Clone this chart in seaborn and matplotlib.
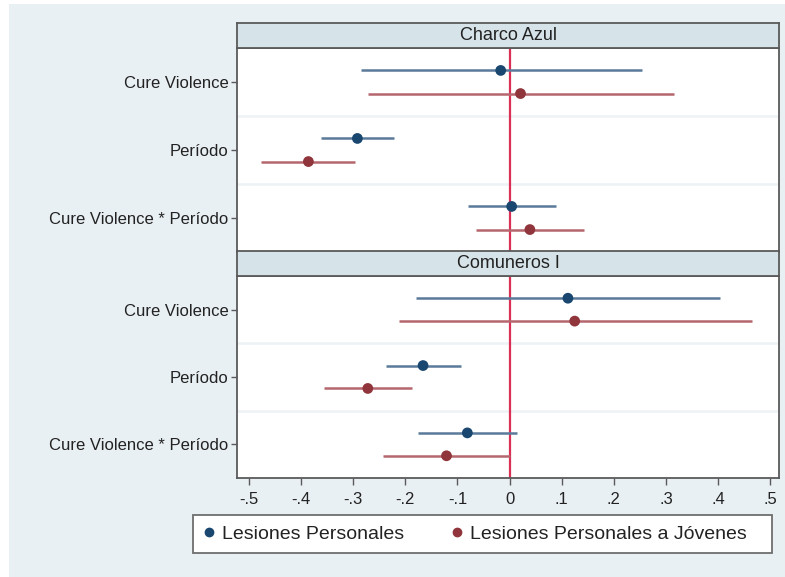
import matplotlib
matplotlib.use("Agg")
import matplotlib.pyplot as plt
from matplotlib.patches import Rectangle
from matplotlib.lines import Line2D
import seaborn as sns
import pandas as pd
import numpy as np

# ---------------- data ----------------
categories = ["Cure Violence", "Período", "Cure Violence * Período"]
panels = ["Charco Azul", "Comuneros I"]
series = ["Lesiones Personales", "Lesiones Personales a Jóvenes"]

charco_lp_est = [-0.017, -0.292, 0.004]
charco_lp_lo = [-0.286, -0.361, -0.080]
charco_lp_hi = [0.254, -0.221, 0.090]
charco_lpj_est = [0.021, -0.386, 0.039]
charco_lpj_lo = [-0.271, -0.476, -0.064]
charco_lpj_hi = [0.315, -0.296, 0.142]

comu_lp_est = [0.112, -0.166, -0.081]
comu_lp_lo = [-0.180, -0.237, -0.175]
comu_lp_hi = [0.404, -0.094, 0.014]
comu_lpj_est = [0.125, -0.272, -0.121]
comu_lpj_lo = [-0.213, -0.356, -0.243]
comu_lpj_hi = [0.465, -0.188, 0.000]

xticks = [-0.5, -0.4, -0.3, -0.2, -0.1, 0.0, 0.1, 0.2, 0.3, 0.4, 0.5]
xticklabels = ["-.5", "-.4", "-.3", "-.2", "-.1", "0", ".1", ".2", ".3", ".4", ".5"]

rows = []
for panel, blocks in zip(panels, [
        [(charco_lp_est, charco_lp_lo, charco_lp_hi), (charco_lpj_est, charco_lpj_lo, charco_lpj_hi)],
        [(comu_lp_est, comu_lp_lo, comu_lp_hi), (comu_lpj_est, comu_lpj_lo, comu_lpj_hi)]]):
    for s, (est, lo, hi) in zip(series, blocks):
        for i, c in enumerate(categories):
            rows.append(dict(panel=panel, series=s, cat=c, idx=i, est=est[i], lo=lo[i], hi=hi[i]))
df = pd.DataFrame(rows)
offset = {series[0]: -0.17, series[1]: 0.17}
df["ypos"] = df["idx"] + df["series"].map(offset)

colors = {series[0]: "#1A476F", series[1]: "#90353B"}
ci_colors = {series[0]: "#5B7A99", series[1]: "#B5676D"}

# ---------------- figure ----------------
sns.set_style("white")
plt.rcParams["font.family"] = ["Liberation Sans", "DejaVu Sans"]

W, H = 785, 577
fig = plt.figure(figsize=(W / 100, H / 100), dpi=100, facecolor="white")
bg = "#E9F0F3"
fig.patches.append(Rectangle((9 / W, 0), 1 - 9 / W, 1 - 4 / H, transform=fig.transFigure,
                             facecolor=bg, edgecolor="none", zorder=-10))

left = 237 / W
width = (779 - 237) / W
spine_c = "#5A5A5A"
strip_c = "#D6E3E8"

panel_px = [(23, 48, 252), (251, 276, 478)]  # strip top, plot top, plot bottom
xlim = (-0.523, 0.517)

for k, (panel, (st, pt, pb)) in enumerate(zip(panels, panel_px)):
    ax = fig.add_axes([left, 1 - pb / H, width, (pb - pt) / H])
    ax.set_zorder(2)
    sub = df[df.panel == panel]
    ax.set_facecolor("white")
    # grid lines between categories
    for g in [0.5, 1.5]:
        ax.axhline(g, color="#EDF3F5", lw=1.8, zorder=0)
    ax.axvline(0, color="#DC2F55", lw=1.6, zorder=1)
    for s in series:
        ss = sub[sub.series == s]
        ax.hlines(ss["ypos"], ss["lo"], ss["hi"], colors=ci_colors[s], lw=1.8, zorder=2)
    sns.scatterplot(data=sub, x="est", y="ypos", hue="series", palette=colors,
                    s=60, edgecolor="none", legend=False, ax=ax, zorder=3)
    ax.set_xlim(*xlim)
    ax.set_ylim(2.5, -0.5)
    ax.set_yticks(range(len(categories)))
    ax.set_yticklabels(categories, fontsize=12, color="#222222")
    ax.set_xlabel("")
    ax.set_ylabel("")
    ax.set_xticks(xticks)
    if k == 1:
        ax.set_xticklabels(xticklabels, fontsize=12, color="#222222")
        ax.tick_params(axis="x", bottom=True, length=5, width=1, color=spine_c, pad=5)
    else:
        ax.tick_params(axis="x", bottom=False, length=0, labelbottom=False)
    ax.tick_params(axis="y", length=4, width=1, color=spine_c, pad=2, left=True)
    for sp in ax.spines.values():
        sp.set_color(spine_c)
        sp.set_linewidth(1.3)
    # strip
    sax = fig.add_axes([left, 1 - pt / H, width, (pt - st) / H])
    sax.set_zorder(3)
    sax.set_facecolor(strip_c)
    sax.set_xticks([])
    sax.set_yticks([])
    for sp in sax.spines.values():
        sp.set_color(spine_c)
        sp.set_linewidth(1.3)
    sax.text(0.5, 0.5, panel, ha="center", va="center", fontsize=13, color="#222222",
             transform=sax.transAxes)

# legend box
lx0, lx1, ly0, ly1 = 193, 772, 515, 553
fig.patches.append(Rectangle((lx0 / W, 1 - ly1 / H), (lx1 - lx0) / W, (ly1 - ly0) / H,
                             transform=fig.transFigure, facecolor="white",
                             edgecolor="#6E6E6E", lw=1.3, zorder=1))
handles = [Line2D([], [], marker="o", linestyle="none", color=colors[s], markersize=6) for s in series]
leg = fig.legend(handles, series, loc="center", ncol=2, frameon=False, fontsize=14,
                 bbox_to_anchor=((lx0 + lx1) / 2 / W - 0.012, 1 - (ly0 + ly1) / 2 / H),
                 handletextpad=0.2, columnspacing=2.2, handlelength=1.0)
for t in leg.get_texts():
    t.set_color("#222222")
leg.set_zorder(5)

fig.savefig("out.png", dpi=100, facecolor=fig.get_facecolor())
